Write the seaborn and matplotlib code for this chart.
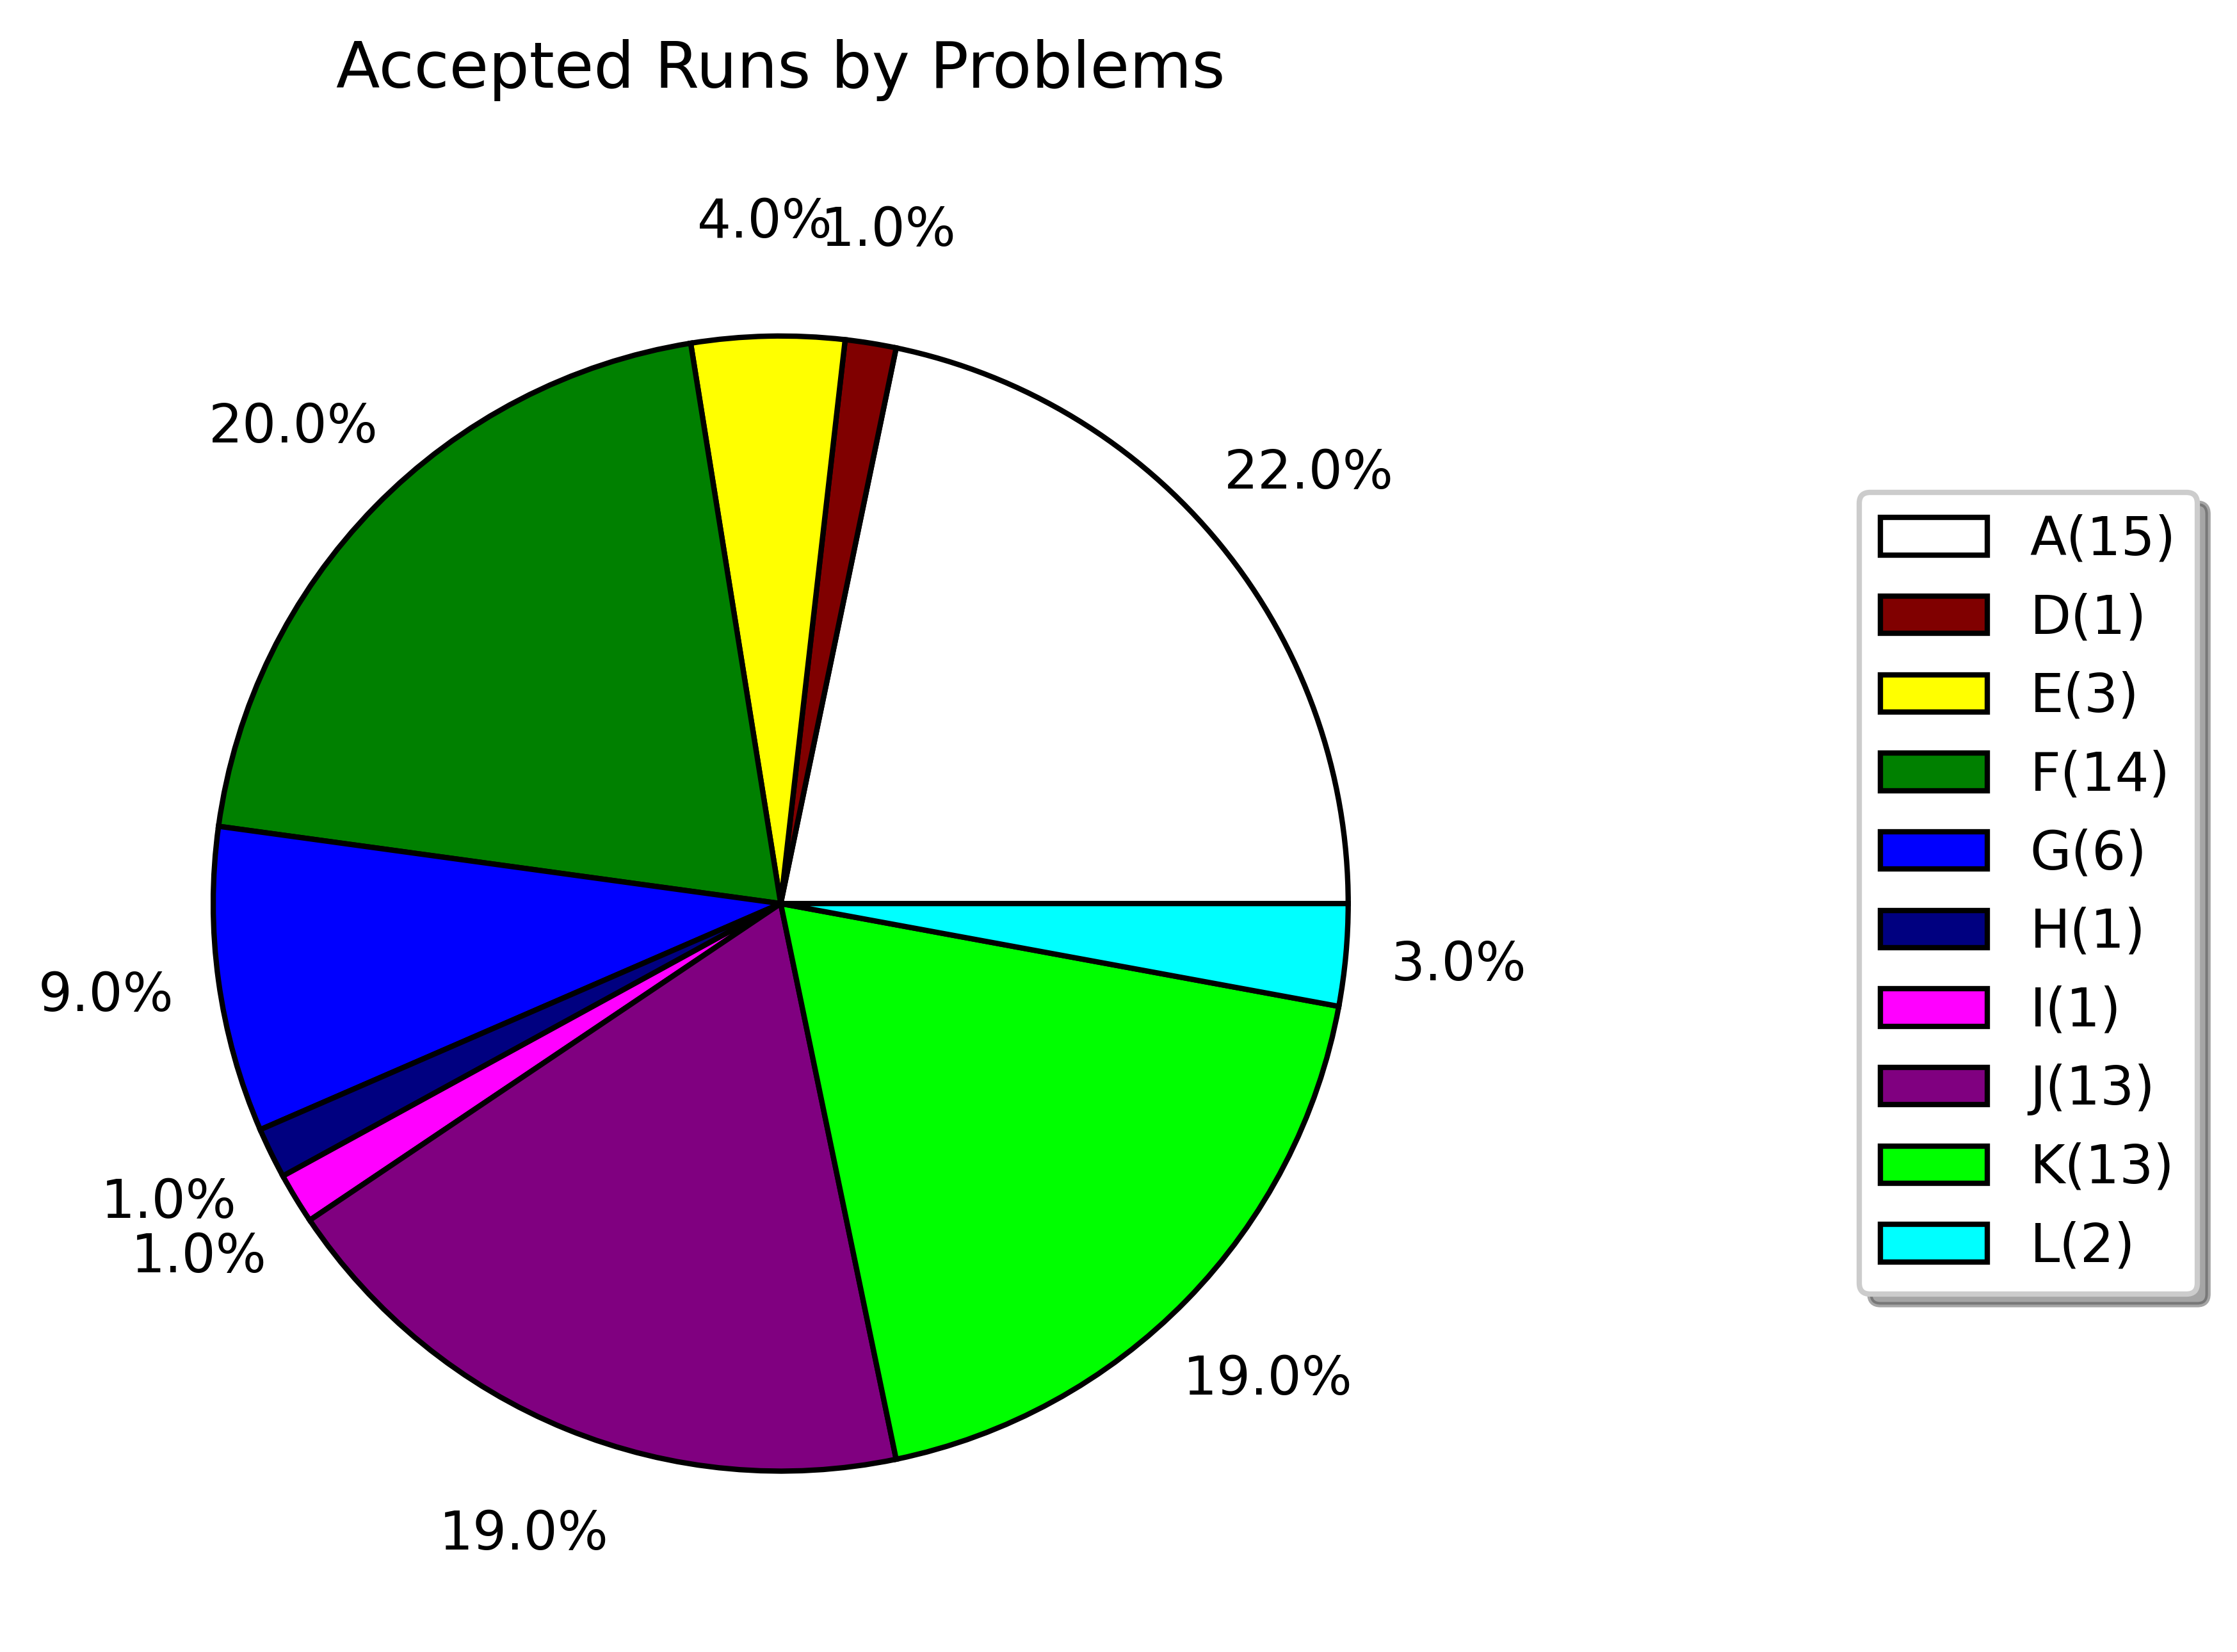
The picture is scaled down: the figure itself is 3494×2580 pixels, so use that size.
import matplotlib
matplotlib.use("Agg")
import matplotlib.pyplot as plt
import seaborn as sns

# Accepted runs per problem
problems = ["A", "D", "E", "F", "G", "H", "I", "J", "K", "L"]
accepted = [15, 1, 3, 14, 6, 1, 1, 13, 13, 2]
colors = ["white", "maroon", "yellow", "green", "blue", "navy",
          "magenta", "purple", "lime", "cyan"]

palette = sns.color_palette(colors)
legend_labels = [f"{p}({n})" for p, n in zip(problems, accepted)]

plt.rcParams.update({
    "font.family": ["DejaVu Sans"],
    "font.size": 10,
    "axes.titlesize": 12,
    "legend.fontsize": 10,
    "text.color": "black",
})

fig = plt.figure(figsize=(3494 / 600, 2580 / 600), dpi=600)
ax = fig.add_axes([0.0319, 0.0236, 0.6342, 0.8589])

wedges, texts, autotexts = ax.pie(
    accepted,
    colors=palette,
    autopct=lambda p: f"{round(p):.1f}%",
    pctdistance=1.2,
    startangle=0,
    wedgeprops={"edgecolor": "black", "linewidth": 1},
    textprops={"fontsize": 10, "color": "black"},
)
ax.set_xlim(-1.25, 1.25)
ax.set_ylim(-1.25, 1.25)
ax.set_aspect("equal")

ax.set_title("Accepted Runs by Problems", pad=20)

fig.legend(
    wedges, legend_labels,
    loc="center left",
    bbox_to_anchor=(0.8311, 0.4593),
    bbox_transform=fig.transFigure,
    borderaxespad=0,
    frameon=True,
    fancybox=True,
    shadow=True,
)

fig.savefig("out.png", dpi=600)
